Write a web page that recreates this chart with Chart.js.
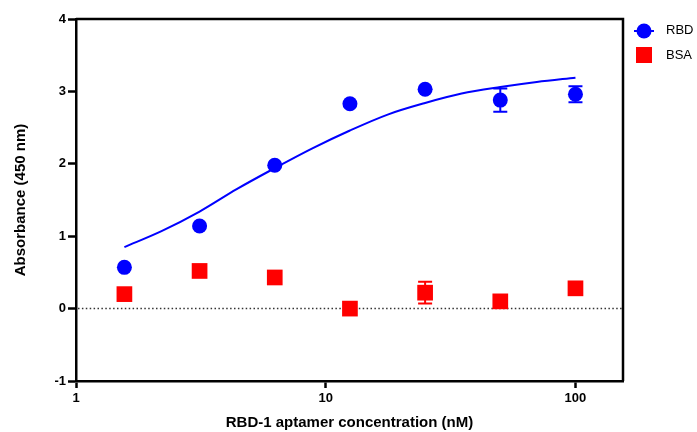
<!DOCTYPE html>
<html>
<head>
<meta charset="utf-8">
<script src="https://cdn.jsdelivr.net/npm/chart.js@4"></script>
<style>
  html, body { margin: 0; padding: 0; background: #fff; }
  #wrap { width: 697px; height: 432px; }
</style>
</head>
<body>
<div id="wrap"><canvas id="chart"></canvas></div>
<script>
// Data
const concentrations = [1.5625, 3.125, 6.25, 12.5, 25, 50, 100]
const rbdMean = [0.57, 1.14, 1.98, 2.83, 3.03, 2.88, 2.96]
const rbdErr = [0, 0, 0, 0, 0, 0.16, 0.11]
const bsaMean = [0.2, 0.52, 0.43, 0.0, 0.22, 0.1, 0.28]
const bsaErr = [0, 0, 0, 0, 0.15, 0, 0]
// Fitted curve for RBD
const fitX = [1.5625, 2.2, 3.125, 4.4, 6.25, 8.8, 12.5, 17.7, 25, 35, 50, 70, 100]
const fitY = [0.85, 1.07, 1.34, 1.65, 1.94, 2.21, 2.46, 2.68, 2.84, 2.97, 3.06, 3.13, 3.19]
const xTicks = [1, 10, 100]
const yTicks = [-1, 0, 1, 2, 3, 4]

const FONT = 'Arial, "Liberation Sans", sans-serif'
const BLUE = '#0000ff'
const RED = '#ff0000'

const toPoints = (xs, ys) => xs.map((x, i) => ({ x: x, y: ys[i] }))

// Error bars, drawn through the scales
const errorBars = {
  id: 'errorBars',
  afterDatasetsDraw(chart) {
    const ctx = chart.ctx
    const yScale = chart.scales.y
    chart.data.datasets.forEach((ds, di) => {
      if (!ds.errors) return
      const meta = chart.getDatasetMeta(di)
      ctx.save()
      ctx.strokeStyle = ds.borderColor
      ctx.lineWidth = 2
      meta.data.forEach((pt, i) => {
        const e = ds.errors[i]
        if (!e) return
        const v = ds.data[i].y
        const top = yScale.getPixelForValue(v + e)
        const bot = yScale.getPixelForValue(v - e)
        ctx.beginPath()
        ctx.moveTo(pt.x, top); ctx.lineTo(pt.x, bot)
        ctx.moveTo(pt.x - 7, top); ctx.lineTo(pt.x + 7, top)
        ctx.moveTo(pt.x - 7, bot); ctx.lineTo(pt.x + 7, bot)
        ctx.stroke()
      })
      ctx.restore()
    })
  }
}

// Zero line, top/right frame and legend
const extras = {
  id: 'extras',
  beforeDatasetsDraw(chart) {
    const { ctx, chartArea } = chart
    const y0 = chart.scales.y.getPixelForValue(0)
    ctx.save()
    ctx.strokeStyle = '#333'
    ctx.lineWidth = 1.5
    ctx.setLineDash([1.5, 2.4])
    ctx.beginPath()
    ctx.moveTo(chartArea.left + 2, y0)
    ctx.lineTo(chartArea.right, y0)
    ctx.stroke()
    ctx.restore()
  },
  afterDraw(chart) {
    const { ctx, chartArea } = chart
    ctx.save()
    ctx.strokeStyle = '#000'
    ctx.lineWidth = 2.5
    ctx.beginPath()
    ctx.moveTo(chartArea.left, chartArea.top)
    ctx.lineTo(chartArea.right, chartArea.top)
    ctx.lineTo(chartArea.right, chartArea.bottom)
    ctx.stroke()

    // legend
    ctx.font = '13px ' + FONT
    ctx.textBaseline = 'middle'
    ctx.fillStyle = BLUE
    ctx.strokeStyle = BLUE
    ctx.lineWidth = 2
    ctx.beginPath()
    ctx.moveTo(634, 31); ctx.lineTo(654, 31)
    ctx.stroke()
    ctx.beginPath()
    ctx.arc(644, 31, 7.5, 0, Math.PI * 2)
    ctx.fill()
    ctx.fillStyle = RED
    ctx.fillRect(636, 47, 16, 16)
    ctx.fillStyle = '#000'
    ctx.fillText('RBD', 666, 30)
    ctx.fillText('BSA', 666, 55)
    ctx.restore()
  }
}

new Chart(document.getElementById('chart'), {
  type: 'scatter',
  data: {
    datasets: [
      {
        label: 'RBD',
        data: toPoints(concentrations, rbdMean),
        errors: rbdErr,
        borderColor: BLUE,
        backgroundColor: BLUE,
        pointStyle: 'circle',
        pointRadius: 7.5,
        pointHoverRadius: 7.5,
        borderWidth: 0,
        order: 1
      },
      {
        label: 'BSA',
        data: toPoints(concentrations, bsaMean),
        errors: bsaErr,
        borderColor: RED,
        backgroundColor: RED,
        pointStyle: 'rect',
        pointRadius: 11.1,
        pointHoverRadius: 11.1,
        borderWidth: 0,
        order: 2
      },
      {
        label: 'RBD fit',
        data: toPoints(fitX, fitY),
        showLine: true,
        borderColor: BLUE,
        borderWidth: 2,
        pointRadius: 0,
        cubicInterpolationMode: 'monotone',
        order: 3
      }
    ]
  },
  options: {
    responsive: true,
    maintainAspectRatio: false,
    animation: false,
    layout: { padding: { top: 19, right: 74, left: 0, bottom: 0 } },
    plugins: {
      legend: { display: false },
      tooltip: { enabled: false }
    },
    scales: {
      x: {
        type: 'logarithmic',
        min: 1,
        max: 155,
        afterBuildTicks: s => { s.ticks = xTicks.map(v => ({ value: v })) },
        afterFit: s => { s.height = 51 },
        grid: { drawOnChartArea: false, drawTicks: true, tickLength: 7, tickWidth: 2.5, tickColor: '#000' },
        border: { display: true, color: '#000', width: 2.5 },
        ticks: {
          color: '#000',
          padding: 3,
          maxRotation: 0,
          font: { family: FONT, size: 13, weight: 'bold' },
          callback: v => String(v)
        },
        title: {
          display: true,
          text: 'RBD-1 aptamer concentration (nM)',
          color: '#000',
          font: { family: FONT, size: 15, weight: 'bold' },
          padding: { top: 0, bottom: 0 }
        }
      },
      y: {
        min: -1,
        max: 4,
        afterBuildTicks: s => { s.ticks = yTicks.map(v => ({ value: v })) },
        afterFit: s => { s.width = 76 },
        grid: { drawOnChartArea: false, drawTicks: true, tickLength: 8, tickWidth: 2.5, tickColor: '#000' },
        border: { display: true, color: '#000', width: 2.5 },
        ticks: {
          color: '#000',
          padding: 2,
          font: { family: FONT, size: 13, weight: 'bold' }
        },
        title: {
          display: true,
          text: 'Absorbance (450 nm)',
          color: '#000',
          font: { family: FONT, size: 15, weight: 'bold' },
          padding: { top: 12, bottom: 0 }
        }
      }
    }
  },
  plugins: [errorBars, extras]
})
</script>
</body>
</html>
